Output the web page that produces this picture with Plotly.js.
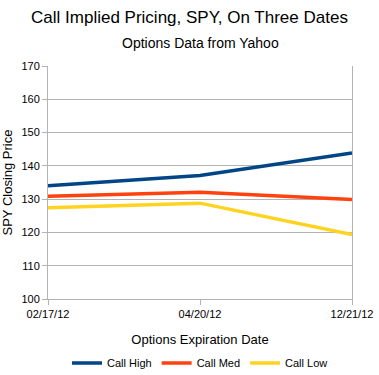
<!DOCTYPE html>
<html><head><meta charset="utf-8">
<script src="https://cdn.plot.ly/plotly-3.0.1.min.js"></script>
<style>html,body{margin:0;padding:0;background:#fff}#chart{width:379px;height:375px}</style>
</head><body><div id="chart"></div>
<script>
const dates = ["02/17/12", "04/20/12", "12/21/12"];
const callHigh = [134, 137.1, 143.9];
const callMed = [130.9, 132.1, 129.9];
const callLow = [127.4, 128.8, 119.4];
const seriesNames = ["Call High", "Call Med", "Call Low"];
const colors = ["#004586", "#ff420e", "#ffd320"];
const yTicks = [100, 110, 120, 130, 140, 150, 160, 170];

const font = "Liberation Sans, Arial, sans-serif";
const traces = [callHigh, callMed, callLow].map((v, i) => ({
  type: "scatter", mode: "lines", x: dates, y: v, name: seriesNames[i],
  line: {color: colors[i], width: 3.5}
}));

const layout = {
  width: 379, height: 375,
  margin: {l: 48, r: 27, t: 66, b: 76, autoexpand: false},
  paper_bgcolor: "#fff", plot_bgcolor: "#fff",
  font: {family: font, color: "#000"},
  title: {text: "Call Implied Pricing, SPY, On Three Dates", font: {size: 17, family: font, color: "#000"}, x: 0.5, xanchor: "center", y: 0.955, yanchor: "middle"},
  annotations: [{text: "Options Data from Yahoo", xref: "paper", yref: "paper", x: 0.5, y: 1, xanchor: "center", yanchor: "bottom", yshift: 13, showarrow: false, font: {size: 14, family: font, color: "#000"}}],
  xaxis: {
    type: "category", range: [0, 2], showgrid: false,
    showline: true, linecolor: "#b3b3b3", linewidth: 1, mirror: false,
    ticks: "outside", ticklen: 5, tickcolor: "#b3b3b3",
    tickfont: {size: 11, family: font, color: "#000"},
    title: {text: "Options Expiration Date", font: {size: 13, family: font, color: "#000"}, standoff: 15},
    zeroline: false, fixedrange: true, automargin: false
  },
  yaxis: {
    range: [100, 170], tickvals: yTicks, showgrid: true, gridcolor: "#b3b3b3", gridwidth: 1,
    showline: true, linecolor: "#b3b3b3", linewidth: 1, mirror: true,
    ticks: "outside", ticklen: 5, tickcolor: "#b3b3b3",
    tickfont: {size: 11, family: font, color: "#000"},
    title: {text: "SPY Closing Price", font: {size: 13, family: font, color: "#000"}, standoff: 8},
    zeroline: false, fixedrange: true, automargin: false
  },
  showlegend: true,
  legend: {orientation: "h", x: 0.5, xanchor: "center", y: -0.275, yanchor: "middle",
    font: {size: 11, family: font, color: "#000"}, itemwidth: 30, traceorder: "normal"}
};
Plotly.newPlot("chart", traces, layout, {displayModeBar: false, staticPlot: true});
</script></body></html>
